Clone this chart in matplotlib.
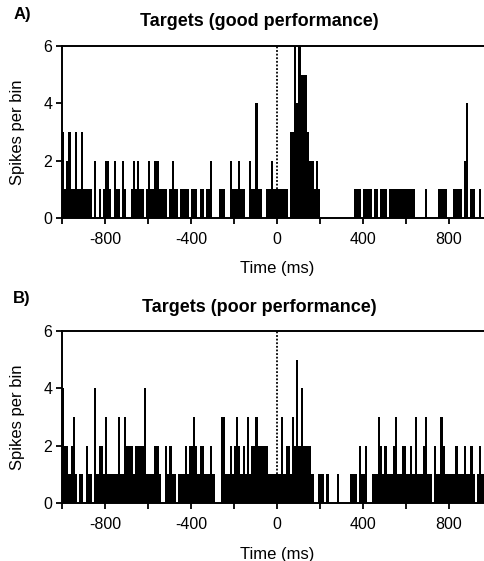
import numpy as np
import matplotlib
matplotlib.use("Agg")
import matplotlib.pyplot as plt

plt.rcParams['font.family'] = ['Liberation Sans', 'DejaVu Sans']
plt.rcParams['axes.unicode_minus'] = False

# 10 ms bins from -1000 to +1000 ms
bin_edges = np.arange(-1000, 1001, 10)

# Panel A: targets, good performance (spikes per bin)
good_counts = [
    3, 1, 2, 3, 1, 1, 3, 1, 1, 3,
    1, 1, 1, 1, 0, 2, 0, 1, 0, 1,
    2, 2, 1, 0, 2, 1, 1, 0, 2, 1,
    0, 0, 1, 2, 1, 2, 1, 1, 0, 1,
    2, 1, 1, 2, 2, 1, 1, 1, 1, 0,
    1, 2, 1, 1, 0, 1, 1, 1, 1, 0,
    1, 1, 1, 0, 1, 1, 0, 1, 1, 2,
    0, 0, 0, 1, 1, 1, 0, 0, 2, 1,
    1, 1, 2, 1, 1, 0, 0, 2, 1, 1,
    4, 1, 1, 0, 0, 1, 1, 2, 1, 1,
    1, 1, 1, 1, 1, 0, 3, 3, 6, 4,
    6, 5, 5, 5, 3, 2, 2, 1, 2, 1,
    0, 0, 0, 0, 0, 0, 0, 0, 0, 0,
    0, 0, 0, 0, 0, 0, 1, 1, 1, 0,
    1, 1, 1, 1, 0, 1, 1, 0, 1, 1,
    1, 0, 1, 1, 1, 1, 1, 1, 1, 1,
    1, 1, 1, 1, 0, 0, 0, 0, 0, 1,
    0, 0, 0, 0, 0, 1, 1, 1, 1, 0,
    0, 0, 1, 1, 1, 1, 0, 2, 4, 0,
    1, 1, 0, 0, 1, 0, 0, 0, 0, 0,
]

# Panel B: targets, poor performance (spikes per bin)
poor_counts = [
    4, 2, 2, 1, 2, 3, 1, 0, 1, 1,
    0, 2, 1, 1, 0, 4, 1, 2, 2, 1,
    3, 1, 1, 1, 1, 1, 3, 1, 1, 3,
    2, 2, 2, 1, 2, 2, 2, 2, 4, 1,
    1, 1, 1, 2, 2, 1, 0, 0, 2, 1,
    2, 1, 1, 0, 1, 1, 1, 2, 1, 2,
    2, 3, 2, 1, 2, 2, 1, 1, 1, 2,
    1, 0, 0, 0, 3, 3, 1, 1, 2, 1,
    2, 3, 2, 1, 2, 1, 3, 1, 2, 2,
    3, 2, 2, 2, 2, 2, 1, 1, 1, 1,
    1, 1, 3, 1, 2, 2, 1, 3, 2, 5,
    2, 4, 2, 2, 2, 2, 1, 0, 0, 1,
    1, 1, 0, 1, 0, 0, 0, 0, 1, 0,
    0, 0, 0, 0, 1, 1, 1, 0, 2, 1,
    1, 2, 0, 0, 1, 1, 1, 3, 2, 1,
    2, 1, 1, 1, 2, 3, 1, 1, 2, 2,
    1, 1, 2, 1, 3, 1, 1, 1, 2, 3,
    1, 1, 0, 2, 1, 1, 3, 2, 1, 1,
    1, 1, 1, 2, 1, 1, 1, 2, 1, 1,
    2, 1, 0, 1, 2, 1, 1, 1, 1, 1,
]

panels = [
    ("A)", "Targets (good performance)", good_counts),
    ("B)", "Targets (poor performance)", poor_counts),
]

W, H = 485, 561
fig = plt.figure(figsize=(W / 100, H / 100), dpi=100)

def px(x, y):
    return x / W, 1 - y / H

# (top y, bottom y) in pixels for each panel
boxes = [(46, 218), (331, 503)]
left_px, right_px = 62, 492

for (letter, title, counts), (top, bot) in zip(panels, boxes):
    l, b = px(left_px, bot)
    ax = fig.add_axes([l, b, (right_px - left_px) / W, (bot - top) / H])
    ax.stairs(counts, bin_edges, fill=True, color='black', linewidth=0.8)
    ax.axvline(0, color='black', linestyle=(0, (1, 1)), linewidth=1.3)
    ax.set_xlim(-1000, 1000)
    ax.set_ylim(0, 6)
    ax.set_yticks([0, 2, 4, 6])
    ax.set_xticks([-800, -400, 0, 400, 800])
    ax.set_xticks(np.arange(-1000, 1001, 200), minor=True)
    ax.tick_params(which='both', direction='out', length=4, width=1.3,
                   labelsize=11.5, pad=3)
    ax.tick_params(axis='x', pad=6)
    for s in ['left', 'bottom', 'top']:
        ax.spines[s].set_linewidth(1.4)
    ax.spines['right'].set_visible(False)

    fig.text(*px(259, top - 24), title, ha='center', va='center',
             fontsize=13, fontweight='bold')
    fig.text(*px(22, top - 32), letter, ha='center', va='center',
             fontsize=12, fontweight='bold')
    fig.text(*px(18, (top + bot) / 2), "Spikes per bin", ha='center',
             va='center', rotation=90, fontsize=12)
    fig.text(*px(277, bot + 51), "Time (ms)", ha='center', va='center',
             fontsize=12)

fig.savefig("out.png", dpi=100)
